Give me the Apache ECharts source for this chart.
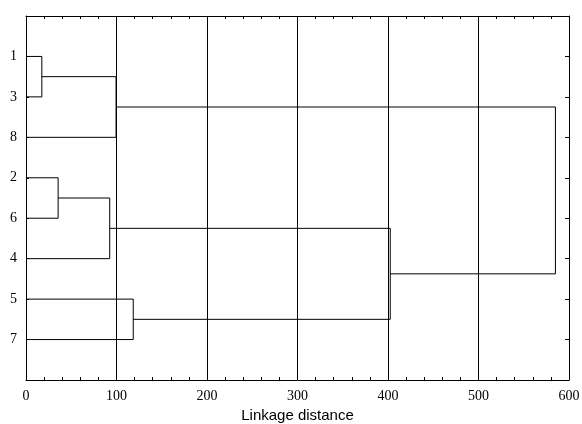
<!DOCTYPE html>
<html><head><meta charset="utf-8">
<script src="https://cdn.jsdelivr.net/npm/echarts@6/dist/echarts.min.js"></script>
<style>html,body{margin:0;padding:0;background:#fff}#c{width:582px;height:424px}</style>
</head><body><div id="c"></div>
<script>
// leaf labels, top to bottom
var leaves = ['1', '3', '8', '2', '6', '4', '5', '7'];
// merges: [left node, right node, linkage distance]; nodes 0..7 are leaves, 8.. are clusters
var merges = [
  [0, 1, 17.5],    // 1 + 3
  [3, 4, 35.5],    // 2 + 6
  [9, 5, 92.5],    // (2,6) + 4
  [8, 2, 99.5],    // (1,3) + 8
  [6, 7, 118.5],   // 5 + 7
  [10, 12, 402.5], // (2,6,4) + (5,7)
  [11, 13, 585]    // all
];
var xTicks = [0, 100, 200, 300, 400, 500, 600];

var pos = [], hgt = [];
leaves.forEach(function (l, i) { pos.push(i + 1); hgt.push(0); });
var series = [];
merges.forEach(function (m) {
  var a = m[0], b = m[1], h = m[2];
  series.push({
    type: 'line', symbol: 'none', silent: true, animation: false,
    lineStyle: { color: '#000', width: 1 },
    data: [[hgt[a], pos[a]], [h, pos[a]], [h, pos[b]], [hgt[b], pos[b]]]
  });
  pos.push((pos[a] + pos[b]) / 2);
  hgt.push(h);
});

var chart = echarts.init(document.getElementById('c'));
var serif = '"Liberation Serif", "Times New Roman", serif';
var tickStyle = { color: '#000', width: 1 };
var axLine = { show: true, onZero: false, lineStyle: { color: '#000', width: 1 } };
chart.setOption({
  animation: false,
  grid: { left: 26, right: 13, top: 16, bottom: 44, containLabel: false, outerBoundsMode: 'none' },
  xAxis: [{
    type: 'value', min: xTicks[0], max: xTicks[xTicks.length - 1], interval: 100,
    position: 'bottom',
    name: 'Linkage distance', nameLocation: 'middle', nameGap: 28,
    nameTextStyle: { fontFamily: '"Liberation Sans", Arial, sans-serif', fontSize: 15, color: '#000' },
    axisLine: axLine,
    axisTick: { show: true, inside: true, length: 4, lineStyle: tickStyle },
    minorTick: { show: true, splitNumber: 5, length: 3, lineStyle: tickStyle },
    axisLabel: { fontFamily: serif, fontSize: 14, color: '#000', margin: 9 },
    splitLine: { show: true, lineStyle: { color: '#000', width: 1 } }
  }, {
    type: 'value', min: xTicks[0], max: xTicks[xTicks.length - 1], interval: 100, position: 'top',
    axisLine: axLine,
    axisTick: { show: true, inside: true, length: 4, lineStyle: tickStyle },
    minorTick: { show: true, splitNumber: 5, length: 3, lineStyle: tickStyle },
    axisLabel: { show: false }, splitLine: { show: false }
  }],
  yAxis: [{
    type: 'value', min: 0, max: leaves.length + 1, interval: 1, inverse: true,
    position: 'left',
    axisLine: axLine,
    axisTick: { show: true, inside: true, length: 3, lineStyle: tickStyle },
    axisLabel: {
      fontFamily: serif, fontSize: 14, color: '#000', margin: 9,
      formatter: function (v) { return leaves[v - 1] || ''; }
    },
    splitLine: { show: false }
  }, {
    type: 'value', min: 0, max: leaves.length + 1, interval: 1, inverse: true,
    position: 'right',
    axisLine: axLine,
    axisTick: { show: true, inside: true, length: 4, lineStyle: tickStyle },
    axisLabel: { show: false }, splitLine: { show: false }
  }],
  series: series
});
</script></body></html>
